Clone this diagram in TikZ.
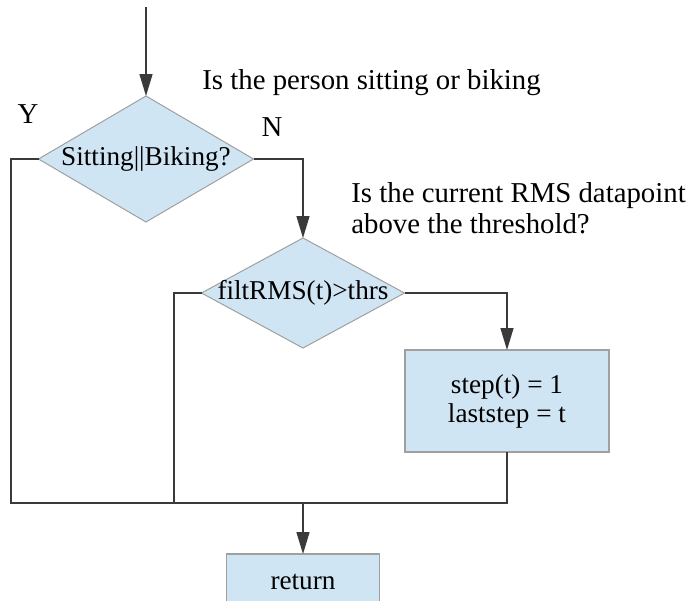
\documentclass[tikz,border=0pt]{standalone}
\usepackage{fontspec}
\setmainfont{Liberation Serif}
\usetikzlibrary{shapes.geometric,arrows.meta}
\definecolor{boxfill}{HTML}{D0E5F3}
\definecolor{boxline}{HTML}{A0A0A0}
\definecolor{wire}{HTML}{3A3A3A}
\tikzset{
  txt/.style={font=\fontsize{14.4pt}{16.5pt}\selectfont, inner sep=0pt},
  decision/.style={shape=diamond, draw=boxline, fill=boxfill, line width=0.5pt,
    inner sep=0pt, outer sep=0pt, font=\fontsize{13.6pt}{15.5pt}\selectfont},
  process/.style={shape=rectangle, draw=boxline, fill=boxfill, line width=0.6pt,
    inner sep=0pt, outer sep=0pt, align=center, font=\fontsize{13.6pt}{15.5pt}\selectfont},
  wireline/.style={draw=wire, line width=0.7pt},
  flow/.style={wireline, -{Triangle[length=11pt,width=6.5pt]}}
}
\begin{document}
\begin{tikzpicture}[x=0.5pt,y=-0.5pt]
\clip (0,0) rectangle (687,601);
\fill[white] (0,0) rectangle (687,601);

% decisions and actions
\node[decision, minimum width=107.5pt, minimum height=63pt] (d1) at (146,159)
  {\makebox[0pt]{Sitting||Biking?}};
\node[decision, minimum width=101.5pt, minimum height=55pt] (d2) at (303,293)
  {\makebox[0pt]{filtRMS(t)>thrs}};
\node[process, minimum width=102pt, minimum height=51pt] (act) at (507,401)
  {step(t) = 1\\[-1pt]laststep = t};
\node[process, minimum width=76.5pt, minimum height=28pt] (ret) at (303,582)
  {return};

% annotations
\node[txt, anchor=base west] (q1) at (202,89) {Is the person sitting or biking};
\node[txt, anchor=base west] (q2) at (351,202) {Is the current RMS datapoint};
\node[txt, anchor=base west] (q3) at (351,233) {above the threshold?};
\node[txt] (yes) at (28,114) {Y};
\node[txt] (no) at (272,127) {N};

% junction points
\coordinate (start) at (146,7);
\coordinate (yl) at (11,503);
\coordinate (nl) at (174,503);
\coordinate (m) at (303,503);

% connectors
\draw[flow] (start) -- (d1.north);
\draw[flow] (d1.east) -| (d2.north);
\draw[flow] (d2.east) -| (act.north);
\draw[wireline] (d1.west) -| (yl) -- (m);
\draw[wireline] (d2.west) -| (nl) -- (m);
\draw[wireline] (act.south) |- (m);
\draw[flow] (m) -- (ret.north);
\end{tikzpicture}
\end{document}
